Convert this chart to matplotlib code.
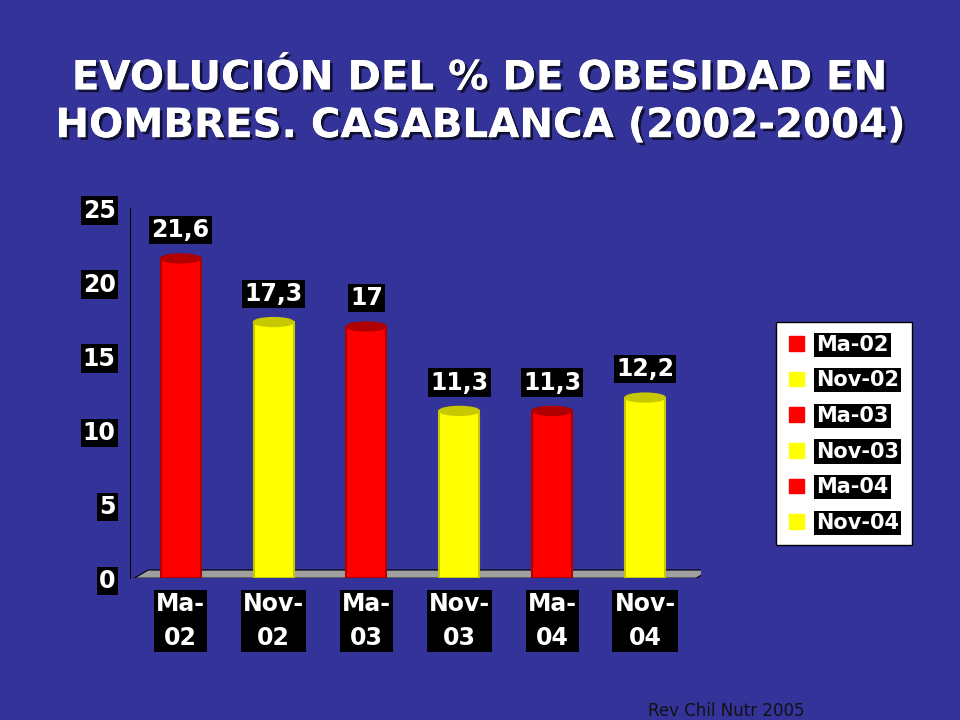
import matplotlib.pyplot as plt
from matplotlib.patches import Ellipse, Polygon
import matplotlib.patheffects as pe

# data
categories = ["Ma-\n02", "Nov-\n02", "Ma-\n03", "Nov-\n03", "Ma-\n04", "Nov-\n04"]
legend_labels = ["Ma-02", "Nov-02", "Ma-03", "Nov-03", "Ma-04", "Nov-04"]
values = [21.6, 17.3, 17.0, 11.3, 11.3, 12.2]
value_labels = ["21,6", "17,3", "17", "11,3", "11,3", "12,2"]
colors = ["#FF0000", "#FFFF00", "#FF0000", "#FFFF00", "#FF0000", "#FFFF00"]
dark = {"#FF0000": "#B00000", "#FFFF00": "#C8C800"}

bg = "#333399"
fig = plt.figure(figsize=(9.6, 7.2), dpi=100, facecolor=bg)
ax = fig.add_axes([0.135, 0.197, 0.595, 0.514])
ax.set_facecolor(bg)

fig.text(0.5, 0.858, "EVOLUCIÓN DEL % DE OBESIDAD EN\nHOMBRES. CASABLANCA (2002-2004)",
         ha="center", va="center", color="white", fontsize=29, fontweight="bold",
         linespacing=1.25,
         path_effects=[pe.withSimplePatchShadow(offset=(2, -2), shadow_rgbFace="#111133", alpha=1), pe.Normal()])

x = list(range(len(values)))
w = 0.43
# floor
floor = Polygon([(-0.5, 0), (5.55, 0), (5.7, 0.55), (-0.35, 0.55)], closed=True,
                facecolor="#A0A0A0", edgecolor="black", lw=0.8, zorder=1)
ax.add_patch(floor)
ax.bar(x, values, width=w, color=colors, edgecolor=[dark[c] for c in colors], lw=1.5, zorder=2)
for i, v in enumerate(values):
    ax.add_patch(Ellipse((i, v), w, 0.6, facecolor=dark[colors[i]], edgecolor=dark[colors[i]], zorder=3))
    ax.add_patch(Ellipse((i, 0.05), w, 0.5, facecolor=colors[i], edgecolor=dark[colors[i]], zorder=1.5))
    ax.text(i, v + 1.1, value_labels[i], ha="center", va="bottom", color="white", fontsize=17,
            fontweight="bold", bbox=dict(facecolor="black", edgecolor="none", pad=1.5), zorder=4)

ax.set_xlim(-0.55, 5.6)
ax.set_ylim(0, 25)
ax.set_yticks([0, 5, 10, 15, 20, 25])
ax.set_xticks(x)
ax.set_xticklabels(categories)
for lab in ax.get_yticklabels() + ax.get_xticklabels():
    lab.set_color("white")
    lab.set_fontsize(17)
    lab.set_fontweight("bold")
    lab.set_bbox(dict(facecolor="black", edgecolor="none", pad=1.5))
for lab in ax.get_xticklabels():
    lab.set_linespacing(1.5)
ax.tick_params(axis="both", length=0, pad=10)
for s in ["top", "right", "bottom"]:
    ax.spines[s].set_visible(False)
ax.spines["left"].set_color("black")

handles = [plt.Rectangle((0, 0), 1, 1, color=c) for c in colors]
leg = fig.legend(handles, legend_labels, loc="upper left", bbox_to_anchor=(0.798, 0.567),
                 frameon=True, fontsize=15, handlelength=0.7, handleheight=0.7,
                 handletextpad=0.6, labelspacing=0.75, borderpad=0.6, fancybox=False,
                 framealpha=1)
leg.get_frame().set_facecolor("white")
leg.get_frame().set_edgecolor("black")
for t in leg.get_texts():
    t.set_color("white")
    t.set_fontweight("bold")
    t.set_bbox(dict(facecolor="black", edgecolor="none", pad=1.5))

fig.text(0.675, 0.005, "Rev Chil Nutr 2005", color="#111111", fontsize=12)

fig.savefig("out.png", dpi=100, facecolor=bg)
